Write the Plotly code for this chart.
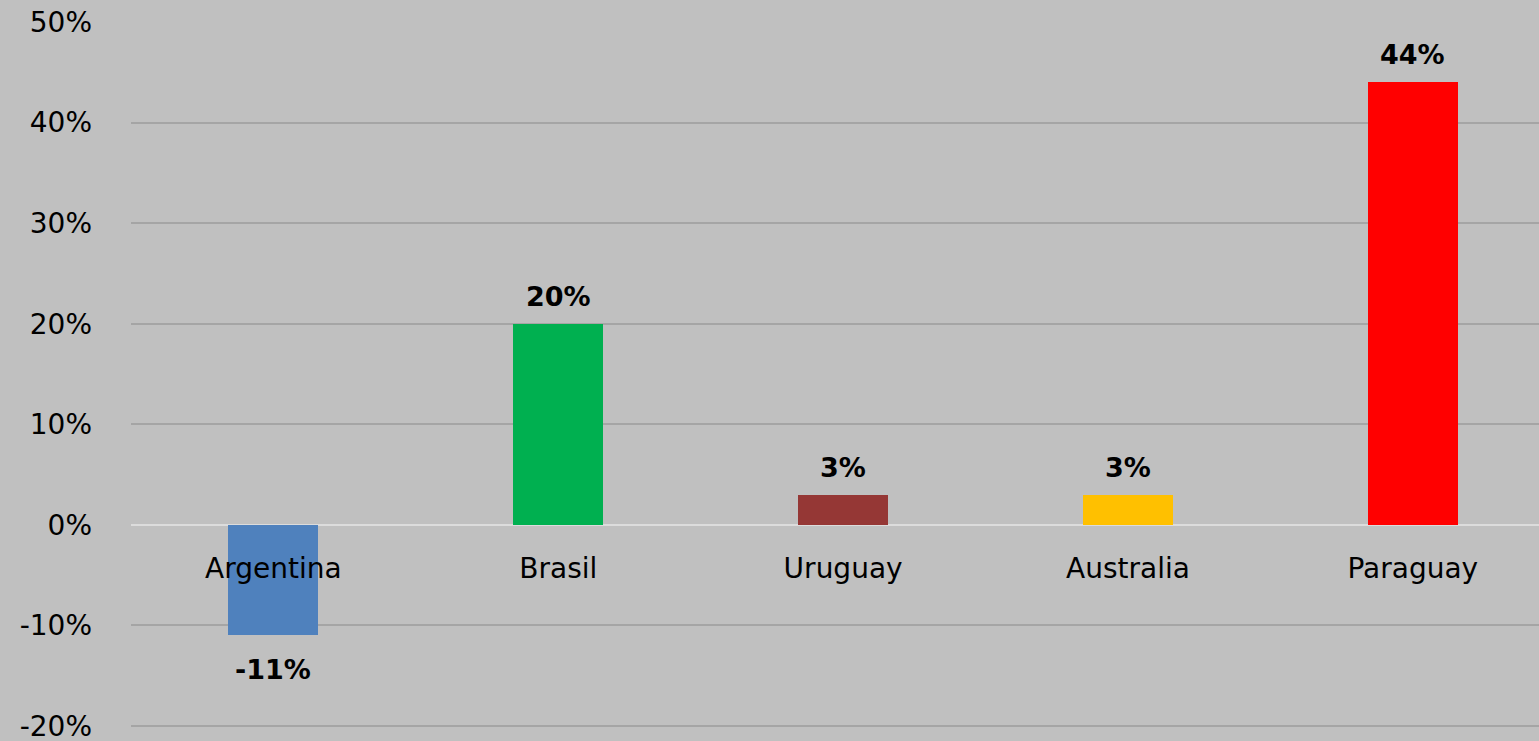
import plotly.graph_objects as go

categories = ["Argentina", "Brasil", "Uruguay", "Australia", "Paraguay"]
values = [-0.11, 0.20, 0.03, 0.03, 0.44]
colors = ["#4F81BD", "#00B050", "#953735", "#FFC000", "#FF0000"]
y_ticks = [-0.2, -0.1, 0, 0.1, 0.2, 0.3, 0.4, 0.5]
y_tick_labels = ["-20%", "-10%", "0%", "10%", "20%", "30%", "40%", "50%"]
y_min, y_max = -0.2, 0.5

fig = go.Figure()
fig.add_trace(go.Bar(
    x=categories, y=values, marker=dict(color=colors, line=dict(width=0)),
    width=0.316, showlegend=False, hoverinfo="skip",
))

for c, v in zip(categories, values):
    fig.add_annotation(
        x=c, y=v, text=f"<b>{round(v*100)}%</b>", showarrow=False,
        yanchor="bottom" if v >= 0 else "top",
        yshift=10 if v >= 0 else -17,
        font=dict(family="DejaVu Sans", size=27, color="#000000"),
    )

pad = 0.006
fig.update_layout(
    width=1539, height=741,
    margin=dict(l=131, r=0, t=22, b=9),
    paper_bgcolor="#C0C0C0", plot_bgcolor="#C0C0C0",
    font=dict(family="DejaVu Sans", color="#000000"),
    bargap=0,
)
fig.update_yaxes(
    range=[y_min - pad, y_max], tickvals=y_ticks, ticktext=y_tick_labels,
    showgrid=True, gridcolor="#A5A5A5", gridwidth=1.5,
    zeroline=True, zerolinecolor="#DCDCDC", zerolinewidth=1.5,
    showline=False, ticks="", ticklabelstandoff=38,
    ticklabeloverflow="allow", automargin=False,
    tickfont=dict(family="DejaVu Sans", size=28, color="#000000"),
)
fig.update_xaxes(
    range=[-0.5, 4.443], anchor="free",
    position=(0 - (y_min - pad)) / (y_max - (y_min - pad)),
    showgrid=False, zeroline=False, showline=False, ticks="",
    ticklabelstandoff=24,
    tickfont=dict(family="DejaVu Sans", size=28, color="#000000"),
)

fig.write_html(
    "out.html",
    config={"displayModeBar": False},
    post_script="document.body.style.margin='0';document.body.style.padding='0';"
                "document.body.style.background='#C0C0C0';",
)
